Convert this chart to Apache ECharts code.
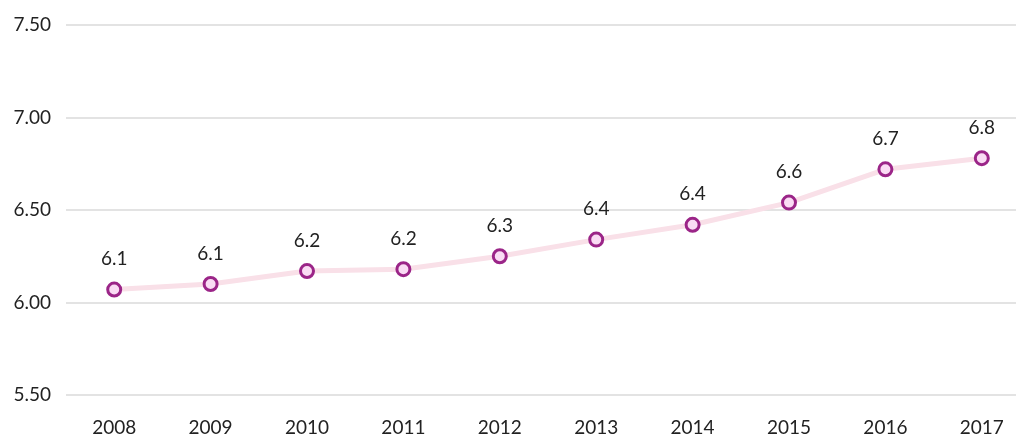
<!DOCTYPE html>
<html>
<head>
<meta charset="utf-8">
<script src="https://cdn.jsdelivr.net/npm/echarts@6/dist/echarts.min.js"></script>
<style>
  html, body { margin: 0; padding: 0; background: #fff; overflow: hidden; }
  #chart { width: 1030px; height: 437px; }
</style>
</head>
<body>
<div id="chart"></div>
<script>
// 年份
const years = ['2008', '2009', '2010', '2011', '2012', '2013', '2014', '2015', '2016', '2017'];
// values
const values = [6.07, 6.10, 6.17, 6.18, 6.25, 6.34, 6.42, 6.54, 6.72, 6.78];
// labels as printed above each point
const pointLabels = ['6.1', '6.1', '6.2', '6.2', '6.3', '6.4', '6.4', '6.6', '6.7', '6.8'];

const FONT = 'Lato';
let chart = echarts.init(document.getElementById('chart'));
chart.setOption({
  animation: false,
  backgroundColor: '#fff',
  grid: { left: 66, right: 0, top: 25, bottom: 42, outerBoundsMode: 'none', containLabel: false },
  xAxis: {
    type: 'category',
    data: years,
    axisLine: { show: false },
    axisTick: { show: false },
    axisLabel: { color: '#222', fontSize: 19, fontFamily: FONT, margin: 23 }
  },
  yAxis: {
    type: 'value',
    min: 5.5,
    max: 7.5,
    interval: 0.5,
    axisLine: { show: false },
    axisTick: { show: false },
    splitLine: { lineStyle: { color: '#e3e3e3', width: 2 } },
    axisLabel: {
      color: '#222', fontSize: 19, fontFamily: FONT, margin: 15,
      formatter: function (v) { return v.toFixed(2); }
    }
  },
  series: [{
    type: 'line',
    data: values,
    symbol: 'circle',
    symbolSize: 13,
    lineStyle: { color: '#f9e0e8', width: 5 },
    itemStyle: { color: '#fadcf4', borderColor: '#9b2588', borderWidth: 3 },
    label: {
      show: true,
      position: 'top',
      distance: 13,
      color: '#222',
      fontSize: 19,
      fontFamily: FONT,
      formatter: function (p) { return pointLabels[p.dataIndex]; }
    }
  }]
});
</script>
</body>
</html>
